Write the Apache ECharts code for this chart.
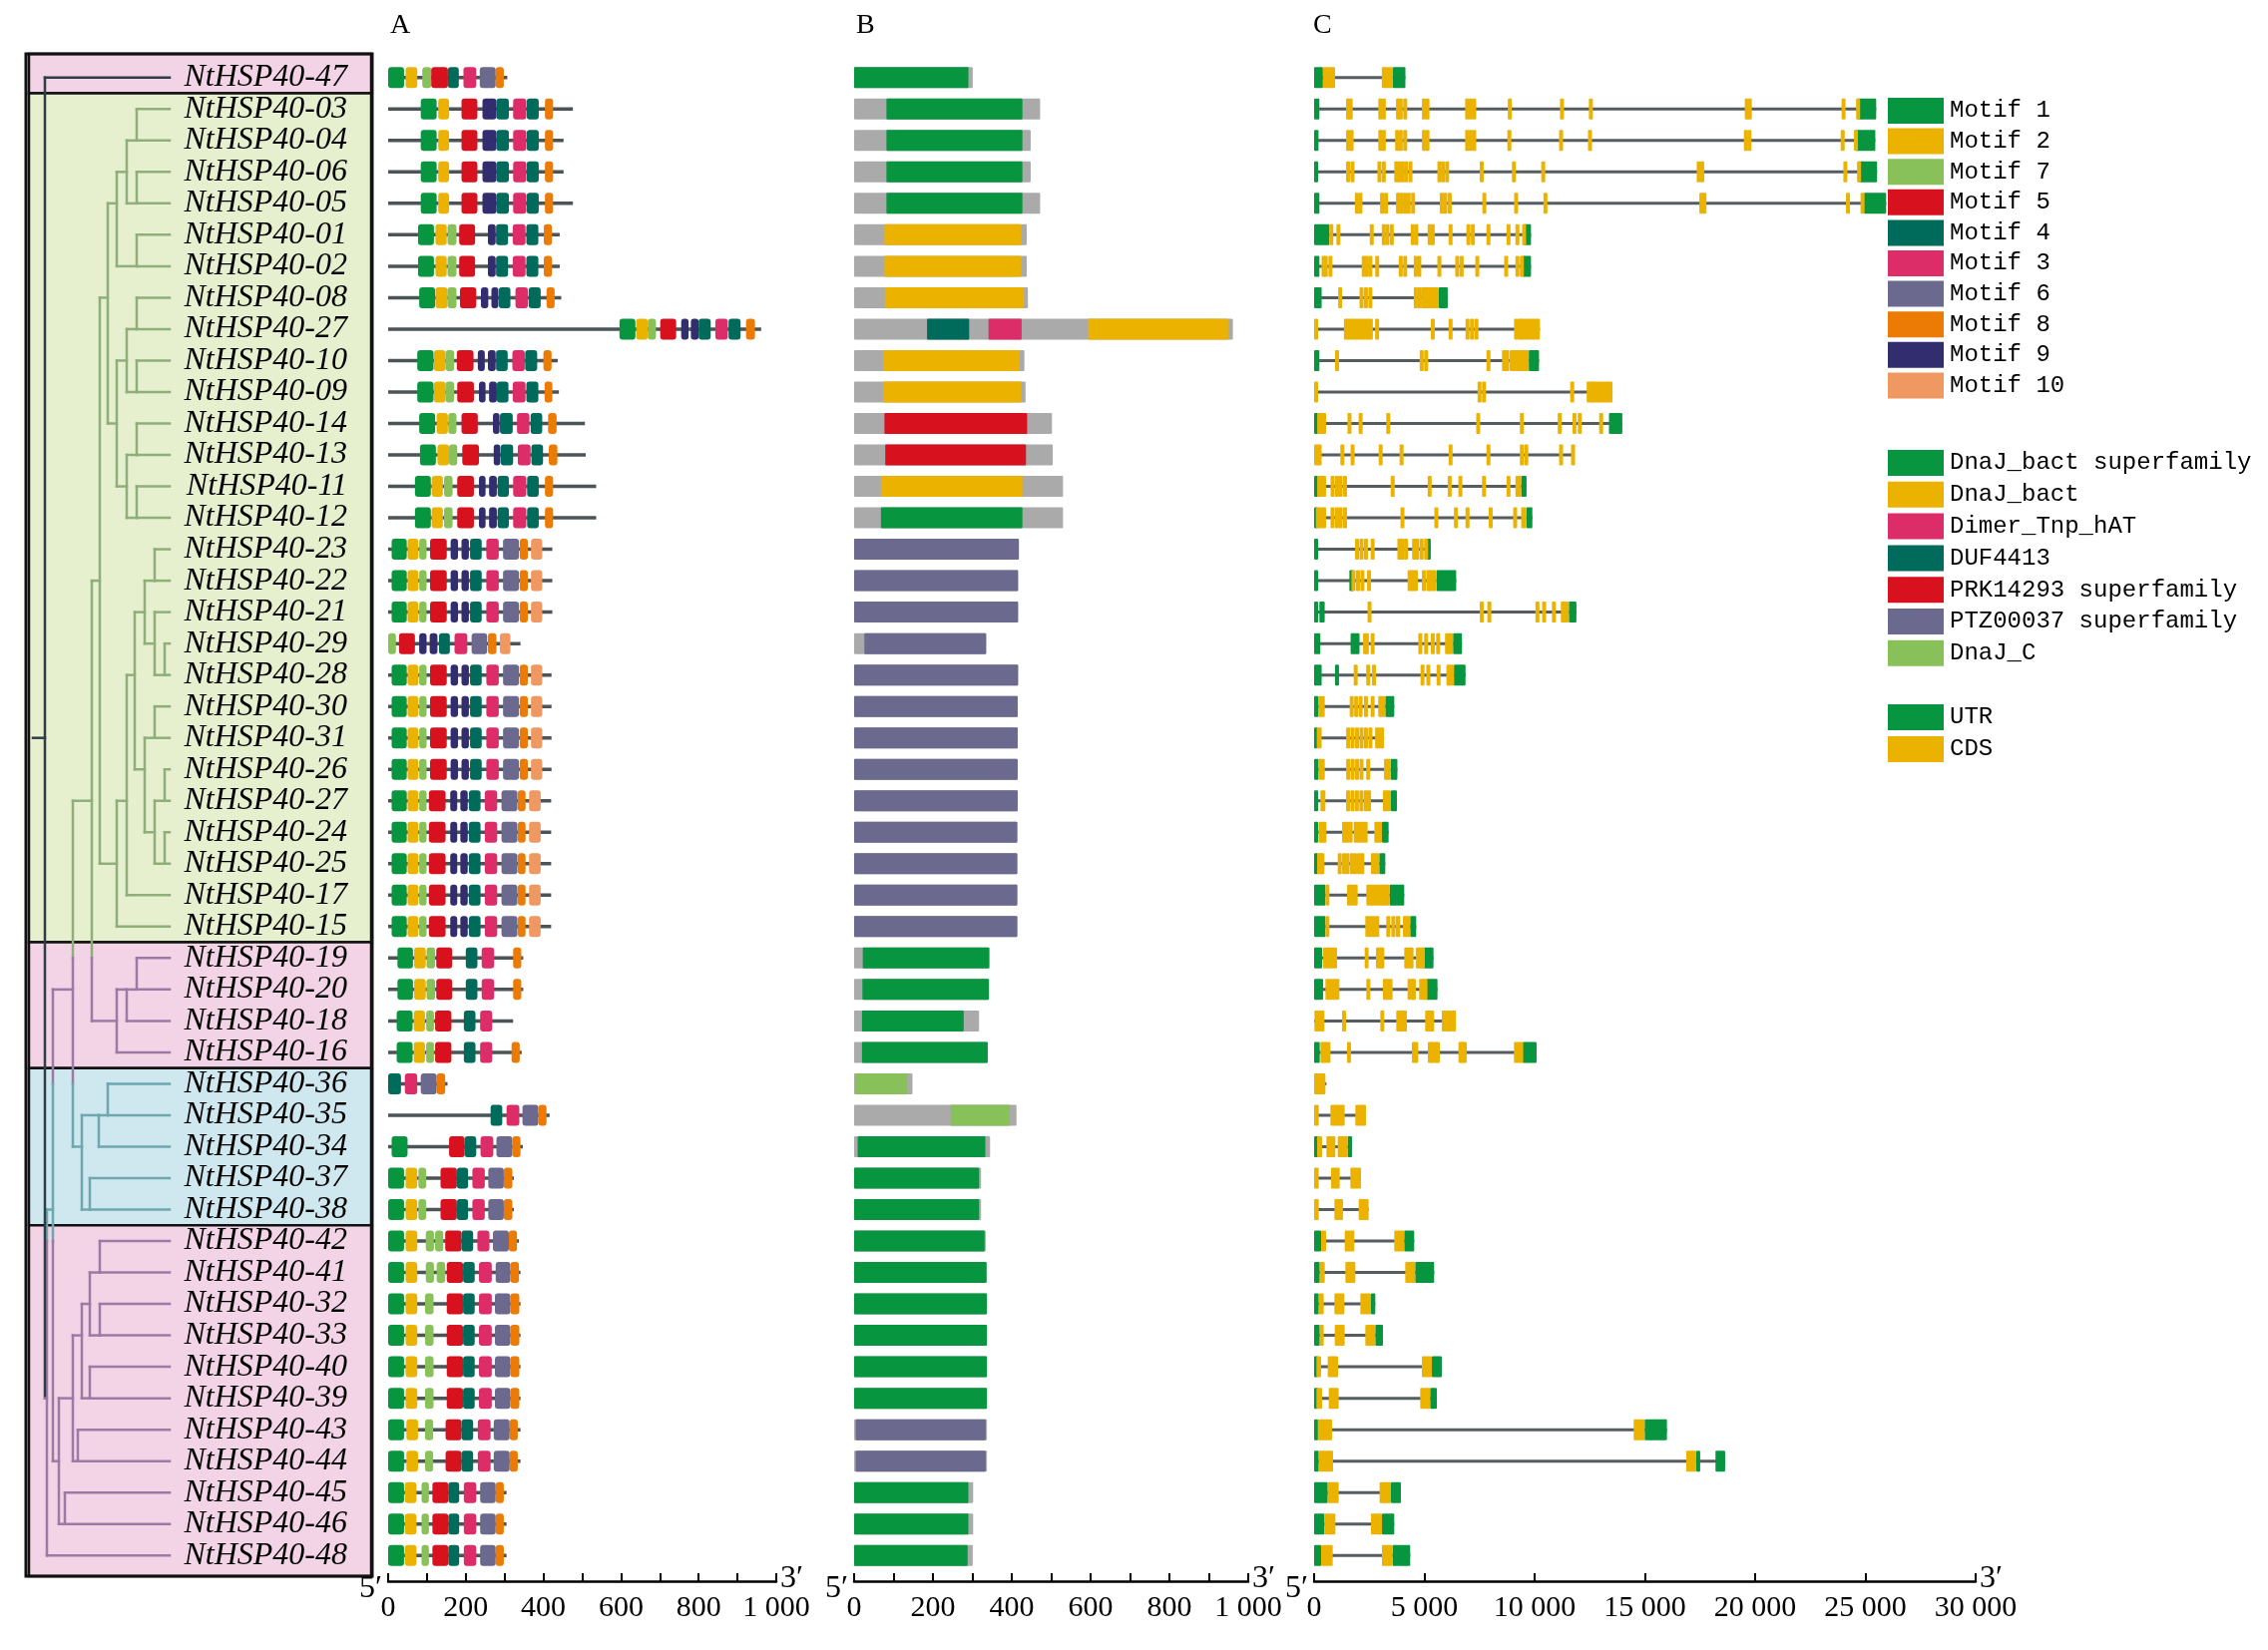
<!DOCTYPE html>
<html>
<head>
<meta charset="utf-8">
<script src="https://cdn.jsdelivr.net/npm/echarts@6/dist/echarts.min.js"></script>
<style>
html, body { margin: 0; padding: 0; background: #fff; }
#main { width: 2273px; height: 1654px; }
</style>
</head>
<body>
<div id="main"></div>
<script>
/*************************************
 * data
 ************************************/
var geneNames = ['NtHSP40-47','NtHSP40-03','NtHSP40-04','NtHSP40-06','NtHSP40-05','NtHSP40-01','NtHSP40-02','NtHSP40-08',
  'NtHSP40-27','NtHSP40-10','NtHSP40-09','NtHSP40-14','NtHSP40-13','NtHSP40-11','NtHSP40-12','NtHSP40-23','NtHSP40-22',
  'NtHSP40-21','NtHSP40-29','NtHSP40-28','NtHSP40-30','NtHSP40-31','NtHSP40-26','NtHSP40-27','NtHSP40-24','NtHSP40-25',
  'NtHSP40-17','NtHSP40-15','NtHSP40-19','NtHSP40-20','NtHSP40-18','NtHSP40-16','NtHSP40-36','NtHSP40-35','NtHSP40-34',
  'NtHSP40-37','NtHSP40-38','NtHSP40-42','NtHSP40-41','NtHSP40-32','NtHSP40-33','NtHSP40-40','NtHSP40-39','NtHSP40-43',
  'NtHSP40-44','NtHSP40-45','NtHSP40-46','NtHSP40-48'];

// clade bands: first row, last row, colour group
var cladeBands = [[0, 0, 'pink'], [1, 27, 'green'], [28, 31, 'pink'], [32, 36, 'blue'], [37, 47, 'pink']];

// tree: [branch point depth, child, child], a leaf is its row number
var g1 = [72, [82, [92, 1, 2], [92, 3, 4]], [92, 5, 6]];
var g2 = [72, [82, [92, 7, 8], [92, 9, 10]], [82, [92, 11, 12], [92, 13, 14]]];
var g3 = [72, [82, [90, [100, [110, 15, 16], [110, 17, [120, 18, 19]]],
                     [100, [110, 20, 21], [110, [120, 22, 23], [120, 24, 25]]]], 26], 27];
var greenClade = [55, [63, g1, g2], g3];
var pink2Clade = [72, [82, [92, 28, 29], 30], 31];
var blueClade = [37, [54, [63, 32, 33], 34], [45, 35, 36]];
var pink3Clade = [14, [28, [37, [45, [55, 37, 38], [55, 39, 40]], [45, 41, 42]], [33, 43, 44]], [20, 45, 46]];
var tree = [0, 0, [2, [8, [28, [47, greenClade, pink2Clade], blueClade], pink3Clade], 47]];

// A: protein length (aa) and motifs [motif, start, end]
var proteinLen = [307,476,452,452,476,442,442,446,961,437,440,507,509,536,536,423,423,423,341,421,421,421,421,420,
  420,420,420,420,348,348,322,344,153,416,347,324,324,337,341,341,341,341,341,341,341,305,305,305];
var mot47 = [[1,0,41],[2,45,75],[7,88,111],[5,111,154],[4,154,182],[3,194,227],[6,236,277],[8,277,298]];
var mot03 = [[1,84,125],[2,129,157],[5,189,230],[9,243,279],[4,279,311],[3,322,356],[4,357,388],[8,404,425]];
var mot01 = [[1,77,118],[2,122,151],[7,153,176],[5,183,224],[9,257,277],[4,278,309],[3,321,354],[4,356,387],[8,401,422]];
var mot08 = [[1,80,121],[2,122,153],[7,153,176],[5,185,227],[9,239,258],[9,266,284],[4,285,315],[3,328,360],[4,362,393],[8,408,429]];
var mot27 = [[1,596,637],[2,639,669],[7,669,690],[5,701,742],[9,755,774],[9,780,800],[4,800,831],[3,843,875],[4,877,908],[8,922,945]];
var mot10 = [[1,75,117],[2,118,148],[7,148,170],[5,177,220],[9,231,249],[9,257,277],[4,278,308],[3,320,352],[4,353,384],[8,400,421]];
var mot09 = [[1,75,117],[2,118,148],[7,148,170],[5,178,221],[9,234,251],[9,260,280],[4,280,310],[3,321,354],[4,356,387],[8,403,423]];
var mot14 = [[1,80,121],[2,125,154],[7,155,176],[5,189,231],[9,270,287],[4,288,321],[3,332,364],[4,367,397],[8,412,434]];
var mot13 = [[1,82,123],[2,127,157],[7,157,178],[5,191,234],[9,272,289],[4,290,322],[3,334,367],[4,369,399],[8,414,436]];
var mot11 = [[1,69,110],[2,112,141],[7,144,166],[5,178,221],[9,234,251],[9,260,280],[4,282,311],[3,322,356],[4,358,388],[8,404,425]];
var mot23 = [[1,9,48],[2,50,78],[7,80,99],[5,108,151],[9,161,180],[9,189,208],[4,211,241],[3,253,285],[6,296,337],[8,339,360],[10,368,397]];
var mot29 = [[7,0,20],[5,28,69],[9,80,99],[9,107,127],[4,131,159],[3,171,204],[6,215,255],[8,257,279],[10,288,315]];
var mot24 = [[1,9,48],[2,50,78],[7,80,99],[5,105,148],[9,160,178],[9,186,205],[4,208,238],[3,249,281],[6,292,333],[8,334,354],[10,363,393]];
var mot19 = [[1,24,64],[2,67,97],[7,99,121],[5,124,165],[4,200,230],[3,241,273],[8,322,343]];
var mot18 = [[1,22,63],[2,66,95],[7,98,118],[5,121,163],[4,195,225],[3,237,268]];
var mot16 = [[1,22,63],[2,66,95],[7,98,118],[5,121,163],[4,195,225],[3,237,268],[8,318,339]];
var mot36 = [[4,0,33],[3,43,75],[6,84,125],[8,125,147]];
var mot35 = [[4,264,294],[3,305,338],[6,346,387],[8,387,408]];
var mot34 = [[1,9,50],[5,157,197],[4,197,227],[3,238,271],[6,279,320],[8,320,341]];
var mot37 = [[1,0,41],[2,45,75],[7,78,98],[5,135,177],[4,177,206],[3,217,249],[6,258,298],[8,298,320]];
var mot42 = [[1,0,41],[2,45,75],[7,97,118],[7,121,142],[5,147,189],[4,189,219],[3,230,261],[6,270,311],[8,311,332]];
var mot41 = [[1,0,41],[2,45,75],[7,97,118],[7,125,147],[5,151,193],[4,193,223],[3,234,267],[6,277,315],[8,315,337]];
var mot32 = [[1,0,41],[2,45,75],[7,95,117],[5,151,193],[4,193,223],[3,234,267],[6,275,315],[8,315,338]];
var mot43 = [[1,0,41],[2,47,77],[7,95,116],[5,148,189],[4,189,219],[3,231,264],[6,272,313],[8,313,334]];
var mot45 = [[1,0,41],[2,43,73],[7,86,105],[5,114,155],[4,155,183],[3,195,227],[6,237,277],[8,277,298]];
var motifRows = [mot47, mot03, mot03, mot03, mot03, mot01, mot01, mot08, mot27, mot10, mot09, mot14, mot13, mot11,
  mot11, mot23, mot23, mot23, mot29, mot23, mot23, mot23, mot23, mot24, mot24, mot24, mot24, mot24, mot19, mot19,
  mot18, mot16, mot36, mot35, mot34, mot37, mot37, mot42, mot41, mot32, mot32, mot32, mot32, mot43, mot43,
  mot45, mot45, mot45];

// B: protein length (aa) and domains [key, start, end]
var domainLen = [301,472,448,448,472,438,438,441,961,432,435,502,504,530,530,418,416,416,335,416,415,415,415,415,
  414,414,414,414,343,342,317,339,148,412,345,322,322,334,336,337,337,337,337,337,337,302,302,301];
var domainRows = [
  [['S',0,290]], [['S',82,427]], [['S',82,427]], [['S',82,427]], [['S',82,427]],
  [['D',77,424]], [['D',77,424]], [['D',78,431]],
  [['U',185,292],['T',341,425],['D',594,949]],
  [['D',74,420]], [['D',74,424]], [['P',77,439]], [['P',79,436]], [['D',68,427]], [['S',68,427]],
  [['Z',0,418]], [['Z',0,416]], [['Z',0,416]], [['Z',26,335]], [['Z',0,416]], [['Z',0,415]], [['Z',0,415]],
  [['Z',0,415]], [['Z',0,415]], [['Z',0,414]], [['Z',0,414]], [['Z',0,414]], [['Z',0,414]],
  [['S',22,343]], [['S',21,342]], [['S',20,278]], [['S',20,339]],
  [['C',3,134]], [['C',245,395]], [['S',9,333]], [['S',0,317]], [['S',0,317]],
  [['S',0,331]], [['S',0,336]], [['S',0,337]], [['S',0,337]], [['S',0,337]], [['S',0,337]],
  [['Z',4,334]], [['Z',4,334]], [['S',0,290]], [['S',0,290]], [['S',0,288]]
];

// C: gene length (bp), UTR and CDS exons; a single number is a narrow exon
var geneLen = [4140,25490,25450,25530,25940,9836,9836,6060,10240,10200,13532,13977,11755,9634,9897,5291,6443,
  11896,6705,6867,3635,3170,3776,3755,3378,3227,4087,4630,5414,5595,6394,10089,560,2352,1719,2127,2473,4539,5444,
  2775,3122,5791,5565,16000,18640,3936,3634,4358];
var utrRows = [
  [[0,400],[3570,4140]],
  [[0,240],[24640,25490]], [[0,200],[24540,25450]], [[0,160],[24690,25530]], [[0,240],[24920,25940]],
  [[0,690],[9493,9836]], [[0,240],[9430,9836]], [[0,342],[5655,6060]], [],
  [[0,240],[9735,10200]], [], [[0,140],[13371,13977]], [], [[0,140],[9391,9634]], [[0,80],[9634,9897]],
  [[0,140],[5049,5291]], [[0,140],[1600,1680],[5554,6443]], [[0,140],[240,480],[11553,11896]],
  [[0,282],[1655,2059],[6301,6705]], [[0,342],[948,1110],[6341,6867]], [[0,200],[3231,3635]], [[0,120]],
  [[0,200],[3473,3776]], [[0,166],[3484,3755]], [[0,150],[3076,3378]], [[0,120],[2956,3227]],
  [[0,513],[3423,4087]], [[0,513],[4358,4630]], [[0,362],[4961,5414]], [[0,407],[5082,5595]], [],
  [[0,256],[9455,10089]], [], [], [[0,136],[1523,1719]], [], [],
  [[0,317],[4087,4539]], [[0,256],[4584,5444]], [[0,211],[2579,2775]], [[0,256],[2775,3122]],
  [[0,106],[5338,5791]], [[0,106],[5263,5565]], [[0,166],[14990,16000]], [[0,211],[17327,17402],[18202,18640]],
  [[0,618],[3484,3936]], [[0,468],[3076,3634]], [[0,317],[3559,4358]]
];
var cdsRows = [
  [[400,950],[3070,3570]],
  [1450,1570,2910,3070,3715,3840,4040,4890,5050,6850,7010,7170,8785,11150,12460,19530,19670,23920,24580],
  [1450,1610,2910,3070,3675,3840,4040,4890,5050,6850,7010,7170,8765,11110,12420,19490,19650,23880,24480],
  [1450,1650,2870,3070,3635,3780,3920,4080,4280,5590,5750,5940,7510,8970,10300,17350,17510,24000,24620],
  [1850,2010,2990,3170,3715,3880,4040,4200,4400,5700,5860,6060,7630,9070,10400,17470,17610,24120,[24780,24920]],
  [[690,800],1010,2524,3069,3231,3433,4382,4544,5150,5291,6099,6907,7109,7816,8725,9129,9432],
  [340,440,650,2160,2300,2460,2770,3840,4040,4520,4680,5590,6400,6600,7310,8620,9130,[9330,9430]],
  [1090,2060,2260,2460,4520,4685,[4847,5655]],
  [[0,80],[1352,2665],2766,5291,6099,6867,7069,7271,9068,9230,[9331,10240]],
  [950,4790,4990,7816,8520,8665,[8866,9735]],
  [[0,120],7412,7614,11614,12361,12502,[12603,13532]],
  [[140,544],1514,2019,3271,7351,9331,11048,11715,11957,12927],
  [[0,342],1190,1655,2928,3877,6099,7816,9331,9533,11109,11654],
  [[140,544],746,948,1110,1312,3473,5150,6059,6543,7614,8725,[9129,9391]],
  [[80,544],746,948,1110,1312,3917,5453,6341,6867,7917,9028,[9391,9634]],
  [1857,2059,2261,2564,3776,3917,4079,4443,4584,4786,4988],
  [1695,1900,2100,2400,4240,4382,4524,4887,5089,[5200,5554]],
  [2423,7513,7856,10038,10341,10785,[11189,11553]],
  [2221,2302,2564,4725,4988,5291,5533,[5937,6301]],
  [1796,2362,2625,4826,5089,5554,[6000,6341]],
  [[200,484],1615,1817,2019,2261,2564,[2907,3231]],
  [[120,342],1453,1655,1857,2059,2261,2463,[2766,3170]],
  [[200,484],1453,1655,1857,2059,2362,[3170,3473]],
  [[287,513],1450,1650,1850,2050,2250,2400,[3122,3484]],
  [200,[317,558],1267,1418,1568,1795,1946,2096,2247,[2730,3076]],
  [136,211,[287,437],1071,1267,1418,1614,1764,1946,2096,[2579,2956]],
  [[513,664],1493,1644,1795,2368,2518,2669,2820,2971,[3076,3423]],
  [[513,600],2322,2473,2624,2775,[3272,3420],[3500,3604],[3700,3906],[4027,4358]],
  [410,560,710,860,2292,2805,2926,3001,4087,4207,4328,4615,4735,[4841,4961]],
  [513,664,815,965,2368,3122,3227,3378,4238,4358,4434,4765,4885,[4960,5082]],
  [15,136,287,[1267,1418],3001,3725,3876,4027,5037,5187,5263,5791,5950,6100,6250],
  [287,407,558,[1493,1599],4434,4539,5157,5263,5414,5519,6545,6650,6741,9063,9184,[9304,9455]],
  [[0,513]],
  [[0,211],[739,1387],[1870,2352]],
  [[136,362],[558,965],[1071,1523]],
  [[0,211],[769,1161],[1644,2127]],
  [[0,211],[920,1312],[2021,2473]],
  [[317,543],[1387,1825],[3634,4087]],
  [[256,483],[1418,1870],[4132,4584]],
  [[211,437],[920,1372],[2096,2579]],
  [[256,437],[935,1387],[2322,2775]],
  [[106,317],[618,1086],[4886,5338]],
  [[106,362],[664,1116],[4811,5263]],
  [[166,814],[14492,14990]],
  [[211,860],[16875,17327]],
  [[618,1116],[2971,3484]],
  [[468,965],[2579,3076]],
  [[317,845],[3076,3559]]
];

// legends
var motifLegendKeys = [1, 2, 7, 5, 4, 3, 6, 8, 9, 10];
var domainLegend = [['S', 'DnaJ_bact superfamily'], ['D', 'DnaJ_bact'], ['T', 'Dimer_Tnp_hAT'], ['U', 'DUF4413'],
  ['P', 'PRK14293 superfamily'], ['Z', 'PTZ00037 superfamily'], ['C', 'DnaJ_C']];
var structLegend = [['UTR', 'UTR'], ['CDS', 'CDS']];

var aTicks = [0, 1000, 100];
var bTicks = [0, 1000, 100];
var cTicks = [0, 30000, 5000];

/*************************************
 * colours and layout
 ************************************/
var motifColors = {1:'#07963f', 2:'#ebb300', 3:'#dc2d68', 4:'#006b5b', 5:'#d8111f', 6:'#6b6a8e',
                   7:'#88c05a', 8:'#ec7b05', 9:'#322d6e', 10:'#ef9861'};
var domainColors = {S:'#07963f', D:'#ebb300', T:'#dc2d68', U:'#006b5b', P:'#d8111f', Z:'#6b6a8e', C:'#88c05a', g:'#aaaaaa'};
var structColors = {UTR:'#07963f', CDS:'#ebb300'};
var bandFill = {pink:'#f3d3e6', green:'#e6f0ce', blue:'#cfe8ef'};
var bandLine = {pink:'#9b7ba6', green:'#8fae7a', blue:'#6ea7ae', root:'#2f3d46'};

var TOP = 62, HEIGHT = 1513;
var LEAF = 125;

var chart = echarts.init(document.getElementById('main'));

function thousands(v) {
  return String(v).replace(/\B(?=(\d{3})+(?!\d))/g, ' ');
}

// tree segments
var treeSegs = [];
function bandAt(y) {
  for (var i = 0; i < cladeBands.length; i++) {
    if (y >= cladeBands[i][0] - 0.5 && y <= cladeBands[i][1] + 0.5) return cladeBands[i][2];
  }
  return 'pink';
}
function pushSeg(x1, y1, x2, y2, root) {
  if (root) { treeSegs.push([x1, y1, x2, y2, 'root']); return; }
  if (x1 !== x2 || y1 === y2) { treeSegs.push([x1, y1, x2, y2, bandAt(y1)]); return; }
  var lo = Math.min(y1, y2), hi = Math.max(y1, y2);
  var cuts = [lo];
  cladeBands.forEach(function (b) {
    var edge = b[1] + 0.5;
    if (edge > lo && edge < hi) cuts.push(edge);
  });
  cuts.push(hi);
  for (var k = 0; k < cuts.length - 1; k++) {
    treeSegs.push([x1, cuts[k], x1, cuts[k + 1], bandAt((cuts[k] + cuts[k + 1]) / 2)]);
  }
}
function layoutTree(node, isRoot) {
  if (typeof node === 'number') return {y: node, x: LEAF};
  var a = layoutTree(node[1], false), b = layoutTree(node[2], false);
  var d = node[0];
  pushSeg(d, a.y, d, b.y, isRoot);
  pushSeg(d, a.y, a.x, a.y, isRoot && typeof node[1] === 'number');
  pushSeg(d, b.y, b.x, b.y, isRoot && typeof node[2] === 'number');
  return {y: (a.y + b.y) / 2, x: d};
}
var rootPos = layoutTree(tree, true);
treeSegs.push([-12, rootPos.y, 0, rootPos.y, 'root']);

// flat item lists
var aLines = [], aBoxes = [], aKeys = [];
proteinLen.forEach(function (len, r) {
  aLines.push([0, len, r]);
  motifRows[r].forEach(function (m) { aBoxes.push([m[1], m[2], r]); aKeys.push(m[0]); });
});
var bBoxes = [], bKeys = [];
domainLen.forEach(function (len, r) {
  bBoxes.push([0, len, r]); bKeys.push('g');
  domainRows[r].forEach(function (d) { bBoxes.push([d[1], d[2], r]); bKeys.push(d[0]); });
});
var cLines = [], cBoxes = [], cKeys = [];
geneLen.forEach(function (len, r) {
  cLines.push([0, len, r]);
  utrRows[r].forEach(function (u) { cBoxes.push([u[0], u[1], r]); cKeys.push('UTR'); });
  cdsRows[r].forEach(function (c) {
    if (typeof c === 'number') cBoxes.push([c, c, r]); else cBoxes.push([c[0], c[1], r]);
    cKeys.push('CDS');
  });
});

function lineItem(width, color) {
  return function (params, api) {
    var s = api.coord([api.value(0), api.value(2)]);
    var e = api.coord([api.value(1), api.value(2)]);
    return {type: 'line', shape: {x1: s[0], y1: s[1], x2: e[0], y2: e[1]},
            style: {stroke: color, lineWidth: width}};
  };
}
function boxItem(h, keys, colors, minW, r) {
  return function (params, api) {
    var s = api.coord([api.value(0), api.value(2)]);
    var e = api.coord([api.value(1), api.value(2)]);
    var w = Math.max(e[0] - s[0], minW);
    return {type: 'rect', shape: {x: s[0], y: s[1] - h / 2, width: w, height: h, r: r},
            style: {fill: colors[keys[params.dataIndex]]}};
  };
}

var xAxisLabel = {color: '#000', fontFamily: 'Liberation Serif', fontSize: 30, margin: 12};
function rulerAxis(idx, t, every) {
  return {
    type: 'value', gridIndex: idx, min: t[0], max: t[1], interval: t[2], offset: 10,
    axisLine: {show: true, lineStyle: {color: '#000', width: 2.5}},
    axisTick: {show: true, inside: true, length: 8, lineStyle: {color: '#000', width: 2}},
    splitLine: {show: false},
    axisLabel: Object.assign({
      formatter: function (v) { return v % every === 0 ? thousands(v) : ''; }
    }, xAxisLabel)
  };
}
function rowAxis(idx, show) {
  return {
    type: 'category', gridIndex: idx, data: geneNames, inverse: true, position: 'right',
    axisLine: {show: false}, axisTick: {show: false}, splitLine: {show: false}, z: 5,
    axisLabel: show ? {show: true, interval: 0, align: 'right', margin: 178, color: '#000',
                       fontFamily: 'Liberation Serif', fontStyle: 'italic', fontSize: 32} : {show: false}
  };
}

var grids = [
  {left: 26, top: TOP, width: 144, height: HEIGHT},
  {left: 389, top: TOP, width: 389, height: HEIGHT},
  {left: 856, top: TOP, width: 395, height: HEIGHT},
  {left: 1317, top: TOP, width: 663, height: HEIGHT}
];

var option = {
  animation: false,
  backgroundColor: '#fff',
  grid: grids,
  xAxis: [
    {type: 'value', gridIndex: 0, min: -19, max: LEAF, show: false},
    rulerAxis(1, aTicks, 200),
    rulerAxis(2, bTicks, 200),
    rulerAxis(3, cTicks, 5000)
  ],
  yAxis: [rowAxis(0, true), rowAxis(1, false), rowAxis(2, false), rowAxis(3, false)],
  series: [
    {
      type: 'custom', xAxisIndex: 0, yAxisIndex: 0, z: -1, silent: true, clip: false,
      data: cladeBands.map(function (b) { return [b[0], b[1]]; }),
      renderItem: function (params, api) {
        var cs = params.coordSys;
        var band = api.size([0, 1])[1];
        var y0 = api.coord([0, api.value(0)])[1] - band / 2;
        var y1 = api.coord([0, api.value(1)])[1] + band / 2;
        if (params.dataIndex === 0) y0 -= 8;
        if (params.dataIndex === cladeBands.length - 1) y1 += 5;
        return {type: 'rect', shape: {x: cs.x + 3, y: y0, width: 343, height: y1 - y0},
                style: {fill: bandFill[cladeBands[params.dataIndex][2]], stroke: '#111', lineWidth: 2.5}};
      }
    },
    {
      type: 'custom', xAxisIndex: 0, yAxisIndex: 0, silent: true, clip: false,
      data: treeSegs.map(function (s) { return [s[0], s[1], s[2], s[3]]; }),
      renderItem: function (params, api) {
        var a = api.coord([api.value(0), api.value(1)]);
        var b = api.coord([api.value(2), api.value(3)]);
        return {type: 'line', shape: {x1: a[0], y1: a[1], x2: b[0], y2: b[1]},
                style: {stroke: bandLine[treeSegs[params.dataIndex][4]], lineWidth: 2.5, lineCap: 'square'}};
      }
    },
    {type: 'custom', xAxisIndex: 1, yAxisIndex: 1, silent: true, data: aLines,
     renderItem: lineItem(3.5, '#4b5558')},
    {type: 'custom', xAxisIndex: 1, yAxisIndex: 1, silent: true, data: aBoxes,
     renderItem: boxItem(21, aKeys, motifColors, 3, 3)},
    {type: 'custom', xAxisIndex: 2, yAxisIndex: 2, silent: true, data: bBoxes,
     renderItem: boxItem(21, bKeys, domainColors, 2, 1)},
    {type: 'custom', xAxisIndex: 3, yAxisIndex: 3, silent: true, data: cLines,
     renderItem: lineItem(3, '#555d60')},
    {type: 'custom', xAxisIndex: 3, yAxisIndex: 3, silent: true, data: cBoxes,
     renderItem: boxItem(21, cKeys, structColors, 4, 1)}
  ]
};
chart.setOption(option);

/*************************************
 * titles, 5'/3' marks, legend, frame
 ************************************/
var gfx = [];
var serif = 'Liberation Serif';
[['A', 391], ['B', 858], ['C', 1316]].forEach(function (t) {
  gfx.push({type: 'text', left: t[1], top: 12, style: {text: t[0], fill: '#000', font: '28px "' + serif + '"'}});
});
[[1, aTicks], [2, bTicks], [3, cTicks]].forEach(function (p) {
  var s = chart.convertToPixel({xAxisIndex: p[0]}, p[1][0]);
  var e = chart.convertToPixel({xAxisIndex: p[0]}, p[1][1]);
  var yAxisLine = TOP + HEIGHT + 10;
  gfx.push({type: 'text', x: s - 6, y: yAxisLine + 8, z: 10,
            style: {text: '5\u2032', fill: '#000', font: '32px "' + serif + '"', align: 'right', verticalAlign: 'middle'}});
  gfx.push({type: 'text', x: e + 4, y: yAxisLine - 2, z: 10,
            style: {text: '3\u2032', fill: '#000', font: '32px "' + serif + '"', align: 'left', verticalAlign: 'middle'}});
});
function legendRow(y, color, label) {
  gfx.push({type: 'rect', shape: {x: 1892, y: y - 13, width: 56, height: 26}, style: {fill: color}});
  gfx.push({type: 'text', x: 1954, y: y, style: {text: label, fill: '#000', font: '24px "Liberation Mono"',
            verticalAlign: 'middle'}});
}
motifLegendKeys.forEach(function (k, i) { legendRow(111 + i * 30.6, motifColors[k], 'Motif ' + k); });
domainLegend.forEach(function (d, i) { legendRow(464 + i * 31.8, domainColors[d[0]], d[1]); });
structLegend.forEach(function (d, i) { legendRow(719 + i * 32, structColors[d[0]], d[1]); });
gfx.push({type: 'rect', z: 20, shape: {x: 26, y: 54, width: 347, height: 1526},
          style: {fill: 'none', stroke: '#111', lineWidth: 3}});
chart.setOption({graphic: {elements: gfx}});
</script>
</body>
</html>
